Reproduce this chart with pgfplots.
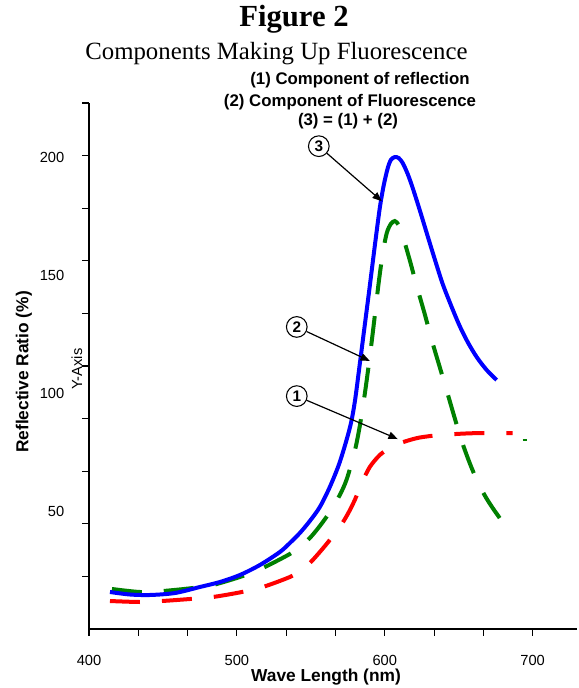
\documentclass[border=0pt]{standalone}
\usepackage{fontspec}
\setmainfont{Liberation Sans}
\newfontfamily\serif{Liberation Serif}
\usepackage{pgfplots}
\pgfplotsset{compat=1.18}
\usetikzlibrary{arrows.meta}
\definecolor{dgreen}{RGB}{0,128,0}

\begin{document}
\begin{tikzpicture}
\useasboundingbox (-66.75pt,-44.25pt) rectangle (366.75pt,471.75pt);

\begin{axis}[
  at={(0,0)}, anchor=south west,
  scale only axis,
  width=366pt, height=394.5pt,
  xmin=400, xmax=730, ymin=0, ymax=222.9,
  axis lines*=left,
  axis line style={line width=0.8pt},
  tick style={black, line width=0.8pt},
  tick align=outside,
  major tick length=5pt, minor tick length=5pt,
  xtick={400,500,600,700},
  xticklabels={400,500,600,700},
  minor x tick num=2,
  ytick={22.29,44.58,66.87,89.16,111.45,133.74,156.03,178.32,200.61,222.9},
  yticklabels={,,,,,,,,,},
  extra y ticks={50,100,150,200},
  extra y tick labels={50,100,150,200},
  extra y tick style={tick style={draw=none}},
  ticklabel style={font=\fontsize{11}{13}\selectfont},
  xticklabel style={yshift=-11pt},
  yticklabel style={xshift=-10pt},
  /pgf/number format/assume math mode=true,
  clip=false,
]
% (1) component of reflection
\addplot[red, line width=3pt, dash pattern=on 22.5pt off 16.5pt, smooth] coordinates {
  (414.19,11.86) (434.46,11.44) (449.32,11.86) (468.24,12.71) (483.78,13.56)
  (503.38,15.68) (517.57,17.80) (535.82,22.03) (542.57,24.57) (549.33,27.96)
  (556.09,32.62) (562.84,37.71) (569.60,43.22) (575.00,48.73) (579.73,54.66)
  (584.46,61.86) (589.87,68.64) (596.63,73.72) (603.38,76.69) (608.78,78.38)
  (616.89,80.08) (623.65,81.14) (633.78,81.99) (642.57,82.41) (654.05,82.83)
  (666.22,83.05) (686.49,83.05)
};
% (2) component of fluorescence
\addplot[dgreen, line width=3pt, dash pattern=on 22.5pt off 16.5pt, smooth] coordinates {
  (415.54,16.95) (434.46,15.68) (450.00,16.10) (470.27,17.37) (483.78,18.64)
  (504.05,22.46) (517.57,25.85) (535.82,31.78) (542.57,34.74) (549.33,38.56)
  (556.09,43.64) (562.84,49.57) (569.60,56.78) (574.33,63.56) (579.73,75.42)
  (583.11,86.01) (586.49,99.57) (589.87,115.25) (593.25,132.62) (595.95,147.02)
  (598.66,159.31) (601.36,167.79) (604.06,171.60) (606.76,172.87) (609.46,171.17)
  (612.16,166.51) (616.89,156.35) (621.62,145.33) (627.03,133.47) (631.76,122.45)
  (637.17,111.01) (642.57,99.57) (647.30,89.40) (652.03,79.66) (657.44,70.33)
  (662.84,62.28) (668.25,55.93) (672.98,51.27) (677.71,47.03) (681.09,43.64)
};
\addplot[dgreen, line width=2pt] coordinates {(693.2,80.1) (695.9,80.1)};
% (3) = (1) + (2)
\addplot[blue, line width=3pt, smooth] coordinates {
  (414.19,15.68) (427.70,14.62) (441.22,14.41) (458.11,15.25) (475.00,17.80)
  (488.52,19.91) (502.03,22.88) (515.55,27.12) (529.06,32.62) (535.82,36.44)
  (542.57,40.68) (549.33,45.76) (556.09,51.69) (562.84,60.17) (569.60,70.76)
  (576.36,85.16) (579.73,96.18) (583.11,112.28) (586.49,128.80) (589.87,145.33)
  (593.25,162.28) (596.63,178.38) (599.33,188.12) (602.03,195.33) (604.06,198.72)
  (606.76,199.99) (609.46,199.56) (612.16,197.44) (615.54,192.78) (618.92,186.85)
  (623.65,177.53) (628.38,167.79) (633.78,156.77) (639.19,146.18) (645.27,136.43)
  (650.68,128.38) (656.08,121.60) (662.16,115.25) (668.92,109.74) (675.68,105.50)
};

\node[circle, draw, line width=0.8pt, inner sep=0pt, minimum size=15.5pt,
  font=\bfseries\fontsize{11.5}{13}\selectfont, fill=white] (c3) at (axis cs:555.4,204.6) {3};
\node[circle, draw, line width=0.8pt, inner sep=0pt, minimum size=15.5pt,
  font=\bfseries\fontsize{11.5}{13}\selectfont, fill=white] (c2) at (axis cs:540.5,128.0) {2};
\node[circle, draw, line width=0.8pt, inner sep=0pt, minimum size=15.5pt,
  font=\bfseries\fontsize{11.5}{13}\selectfont, fill=white] (c1) at (axis cs:540.5,98.7) {1};
\draw[line width=0.9pt, -{Triangle[length=7pt,width=5.5pt]}] (c3) -- (axis cs:598.0,181.3);
\draw[line width=0.9pt, -{Triangle[length=7pt,width=5.5pt]}] (c2) -- (axis cs:589.9,113.6);
\draw[line width=0.9pt, -{Triangle[length=7pt,width=5.5pt]}] (c1) -- (axis cs:608.8,80.5);
\end{axis}

\node[anchor=base, font=\serif\bfseries\fontsize{23}{26}\selectfont] at (153.75pt,451.5pt) {Figure 2};
\node[anchor=base, font=\serif\fontsize{18.6}{22}\selectfont] at (140.6pt,426.75pt) {Components Making Up Fluorescence};
\node[anchor=base, font=\bfseries\fontsize{12.6}{15}\selectfont] at (203.25pt,408pt) {(1) Component of reflection};
\node[anchor=base, font=\bfseries\fontsize{12.6}{15}\selectfont] at (195.75pt,391.5pt) {(2) Component of Fluorescence};
\node[anchor=base, font=\bfseries\fontsize{12.6}{15}\selectfont] at (194.25pt,377.25pt) {(3) = (1) + (2)};
\node[anchor=base, font=\bfseries\fontsize{13}{15}\selectfont] at (177.75pt,-39pt) {Wave Length (nm)};
\node[rotate=90, font=\bfseries\fontsize{13}{15}\selectfont] at (-48.75pt,192.75pt) {Reflective Ratio (\%)};
\node[rotate=90, font=\fontsize{11}{13}\selectfont] at (-9pt,195pt) {Y-Axis};
\end{tikzpicture}
\end{document}
